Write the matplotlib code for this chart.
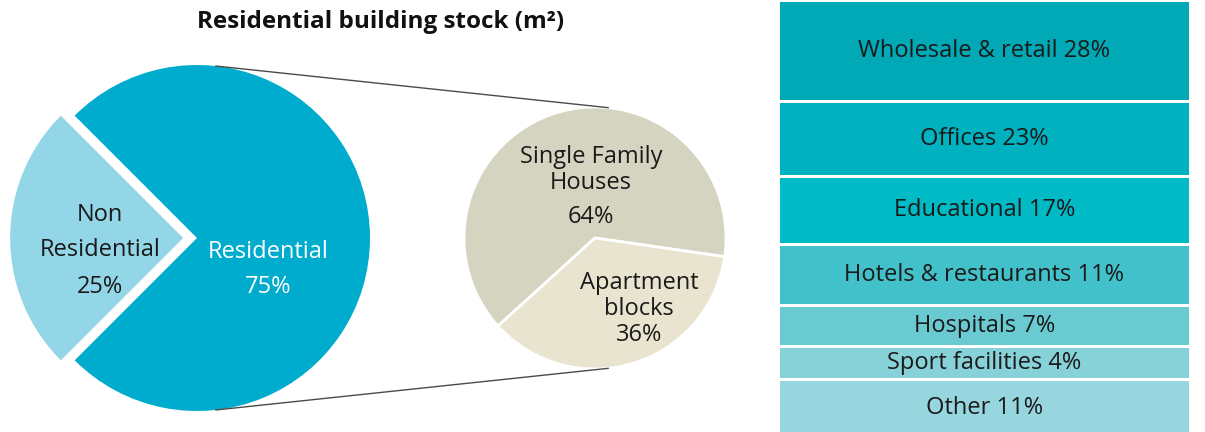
import numpy as np
import matplotlib
matplotlib.use("Agg")
import matplotlib.pyplot as plt

# ---------------- data ----------------
stock_labels = ["Non\nResidential", "Residential"]
stock_pct = [25, 75]
res_labels = ["Single Family\nHouses", "Apartment\nblocks"]
res_pct = [64, 36]
nonres_labels = ["Wholesale & retail", "Offices", "Educational",
                 "Hotels & restaurants", "Hospitals", "Sport facilities", "Other"]
nonres_pct = [28, 23, 17, 11, 7, 4, 11]
title = "Residential building stock (m²)"

# ---------------- styles / layout ----------------
W, H = 1205, 432
FONT = "Open Sans"
FS = 17
stock_colors = ["#93d6e7", "#00acce"]
res_colors = ["#d5d4c0", "#e8e4cf"]
nonres_colors = ["#00a9b5", "#00b2c0", "#00bac6", "#43c1cb",
                 "#6acad2", "#87d1d9", "#97d6de"]
box_pitch = [101, 75, 68, 61, 41, 33, 56]   # drawn sizes of the boxes (px)
box_gap = 3

fig = plt.figure(figsize=(W / 100, H / 100), dpi=100)
ax = fig.add_axes([0, 0, 1, 1])

def Y(y):  # convert top-based pixel y to axes y
    return H - y

# big pie
big_c = (197, Y(238))
big_r = 173
ax.pie(stock_pct, colors=stock_colors, startangle=135, radius=big_r,
       center=big_c, explode=[0.08 * big_r, 0], wedgeprops=dict(linewidth=0))

# small pie
sm_c = (595, Y(238))
sm_r = 131
ax.pie(res_pct, colors=res_colors, startangle=-8.2, radius=sm_r, center=sm_c,
       wedgeprops=dict(linewidth=2, edgecolor="white"))

# connecting tangent lines
d = sm_c[0] - big_c[0]
th = np.arcsin((big_r - sm_r) / d)
for s in (1, -1):
    x1 = big_c[0] + big_r * np.sin(th)
    y1 = big_c[1] + s * big_r * np.cos(th)
    x2 = sm_c[0] + sm_r * np.sin(th)
    y2 = sm_c[1] + s * sm_r * np.cos(th)
    ax.plot([x1, x2], [y1, y2], color="#4a4a4a", lw=1.0, solid_capstyle="butt")

# stacked boxes on the right
bx0, bx1 = 780, 1189
top = 2
for lab, pct, col, h in zip(nonres_labels, nonres_pct, nonres_colors, box_pitch):
    ax.bar((bx0 + bx1) / 2, h - box_gap, width=bx1 - bx0, bottom=Y(top + h - box_gap),
           color=col, linewidth=0)
    ax.text((bx0 + bx1) / 2, Y(top + (h - box_gap) / 2), f"{lab} {pct}%",
            ha="center", va="center", fontsize=FS, color="#1a1a1a", family=FONT)
    top += h

# pie labels
txt = dict(ha="center", va="center", fontsize=FS, family=FONT)
ax.text(100, Y(215), "Non", color="#1a1a1a", **txt)
ax.text(100, Y(250), "Residential", color="#1a1a1a", **txt)
ax.text(100, Y(287), f"{stock_pct[0]}%", color="#1a1a1a", **txt)
ax.text(268, Y(252), "Residential", color="white", **txt)
ax.text(268, Y(287), f"{stock_pct[1]}%", color="white", **txt)
ax.text(591, Y(157), "Single Family", color="#1a1a1a", **txt)
ax.text(591, Y(183), "Houses", color="#1a1a1a", **txt)
ax.text(591, Y(217), f"{res_pct[0]}%", color="#1a1a1a", **txt)
ax.text(639, Y(283), "Apartment", color="#1a1a1a", **txt)
ax.text(639, Y(309), "blocks", color="#1a1a1a", **txt)
ax.text(639, Y(335), f"{res_pct[1]}%", color="#1a1a1a", **txt)

ax.text(381, Y(22), title, ha="center", va="center", fontsize=17.5,
        fontweight="bold", family=FONT, color="#111111")

ax.set_aspect("auto")
ax.set_xlim(0, W)
ax.set_ylim(0, H)
ax.axis("off")

fig.savefig("out.png", dpi=100)
